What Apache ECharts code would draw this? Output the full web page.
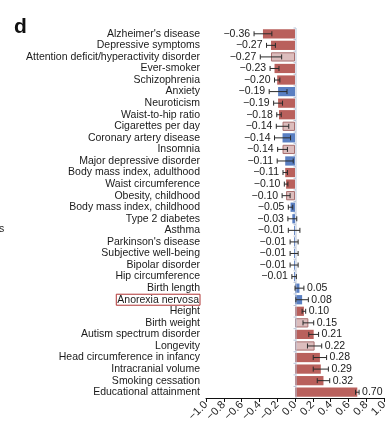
<!DOCTYPE html>
<html><head><meta charset="utf-8">
<script src="https://cdn.jsdelivr.net/npm/echarts@6/dist/echarts.min.js"></script>
<style>html,body{margin:0;padding:0;background:#fff}#c{width:391px;height:425px}</style>
</head><body><div id="c"></div>
<script>
const categories = ["Alzheimer's disease","Depressive symptoms","Attention deficit/hyperactivity disorder","Ever-smoker","Schizophrenia","Anxiety","Neuroticism","Waist-to-hip ratio","Cigarettes per day","Coronary artery disease","Insomnia","Major depressive disorder","Body mass index, adulthood","Waist circumference","Obesity, childhood","Body mass index, childhood","Type 2 diabetes","Asthma","Parkinson's disease","Subjective well-being","Bipolar disorder","Hip circumference","Birth length","Anorexia nervosa","Height","Birth weight","Autism spectrum disorder","Longevity","Head circumference in infancy","Intracranial volume","Smoking cessation","Educational attainment"];
const values = [-0.36,-0.27,-0.27,-0.23,-0.20,-0.19,-0.19,-0.18,-0.14,-0.14,-0.14,-0.11,-0.11,-0.10,-0.10,-0.05,-0.03,-0.01,-0.01,-0.01,-0.01,-0.01,0.05,0.08,0.10,0.15,0.21,0.22,0.28,0.29,0.32,0.70];
const errors = [0.10,0.05,0.12,0.05,0.03,0.10,0.05,0.025,0.07,0.09,0.055,0.09,0.025,0.02,0.045,0.025,0.05,0.065,0.045,0.045,0.045,0.025,0.05,0.07,0.02,0.06,0.055,0.08,0.075,0.085,0.07,0.02];
const groups = ["r","r","p","r","r","b","r","r","p","b","p","b","r","r","p","b","b","b","b","b","b","b","b","b","r","p","r","p","r","r","r","r"];
const xTicks = [-1.0,-0.8,-0.6,-0.4,-0.2,0.0,0.2,0.4,0.6,0.8,1.0];
const highlighted = "Anorexia nervosa";

const styles = {
  r: {color:'#b9605c', borderColor:'#b9605c', borderWidth:0},
  p: {color:'#dcbdbd', borderColor:'#a86e6e', borderWidth:1},
  b: {color:'#5a7fc2', borderColor:'#5a7fc2', borderWidth:0}
};
const FONT = 'Liberation Sans';
const FS = 10.5;
const fmt = v => (v < 0 ? '\u2212' : '') + Math.abs(v).toFixed(2);

const chart = echarts.init(document.getElementById('c'), null, {renderer:'canvas'});
chart.setOption({
  animation:false,
  backgroundColor:'#fff',
  textStyle:{fontFamily:FONT},
  graphic:[
    {type:'text', left:14, top:17, style:{text:'d', font:'bold 21px "Liberation Sans"', fill:'#111'}},
    {type:'text', left:-1, top:224, style:{text:'s', font:'10.5px "Liberation Sans"', fill:'#222'}}
  ],
  grid:{left:206, right:7, top:28, bottom:27, containLabel:false, outerBoundsMode:'none'},
  xAxis:{
    type:'value', min:-1, max:1, interval:0.2,
    axisLine:{show:true, onZero:false, lineStyle:{color:'#111', width:1}},
    axisTick:{show:true, length:4, lineStyle:{color:'#111'}},
    splitLine:{show:false},
    axisLabel:{rotate:45, margin:5, fontSize:11, color:'#222', fontFamily:FONT,
      formatter: v => { const t = xTicks.find(x => Math.abs(x - v) < 1e-6); return t === undefined ? '' : (t < 0 ? '\u2212' : '') + Math.abs(t).toFixed(1); }}
  },
  yAxis:{
    type:'category', data:categories, inverse:true,
    axisLine:{show:false}, axisTick:{show:false},
    axisLabel:{interval:0, margin:6, fontSize:FS, color:'#1a1a1a', fontFamily:FONT,
      formatter: v => v === highlighted ? '{h|' + v + '}' : v,
      rich:{h:{fontSize:FS, fontFamily:FONT, color:'#1a1a1a', borderColor:'#b03434', borderWidth:1, padding:[0,1,0,1], lineHeight:7}}}
  },
  series:[{
    type:'bar', barCategoryGap:'20%',
    data: values.map((v,i) => ({value:v, itemStyle:styles[groups[i]]}))
  },{
    type:'custom', z:5,
    data: values.map((v,i) => [i, v - errors[i], v + errors[i], v]),
    encode:{x:[1,2], y:0},
    renderItem:(params, api) => {
      const idx = api.value(0), lo = api.value(1), hi = api.value(2), v = api.value(3);
      const a = api.coord([lo, idx]), b = api.coord([hi, idx]);
      const z = api.coord([0, idx]);
      const band = api.size([0, 1])[1];
      const cap = 2.5;
      const stroke = '#2a2a2a';
      const axisCol = '#b9c5d8';
      const children = [
        {type:'line', z2:-1, shape:{x1:z[0]+1, y1:z[1]-band/2, x2:z[0]+1, y2:z[1]+band/2}, style:{stroke:axisCol, lineWidth:1}},
        {type:'line', z2:-1, shape:{x1:z[0]+1, y1:z[1]-band/2, x2:z[0]-1.5, y2:z[1]-band/2}, style:{stroke:axisCol, lineWidth:1}},
        {type:'line', shape:{x1:a[0], y1:a[1], x2:b[0], y2:b[1]}, style:{stroke, lineWidth:1}},
        {type:'line', shape:{x1:a[0], y1:a[1]-cap, x2:a[0], y2:a[1]+cap}, style:{stroke, lineWidth:1}},
        {type:'line', shape:{x1:b[0], y1:b[1]-cap, x2:b[0], y2:b[1]+cap}, style:{stroke, lineWidth:1}},
        v < 0
          ? {type:'text', x:a[0]-4, y:a[1], style:{text:fmt(v), align:'right', verticalAlign:'middle', font:FS+'px "Liberation Sans"', fill:'#1a1a1a'}}
          : {type:'text', x:b[0]+3, y:b[1], style:{text:fmt(v), align:'left', verticalAlign:'middle', font:FS+'px "Liberation Sans"', fill:'#1a1a1a'}}
      ];
      return {type:'group', children};
    }
  }]
});
</script></body></html>
